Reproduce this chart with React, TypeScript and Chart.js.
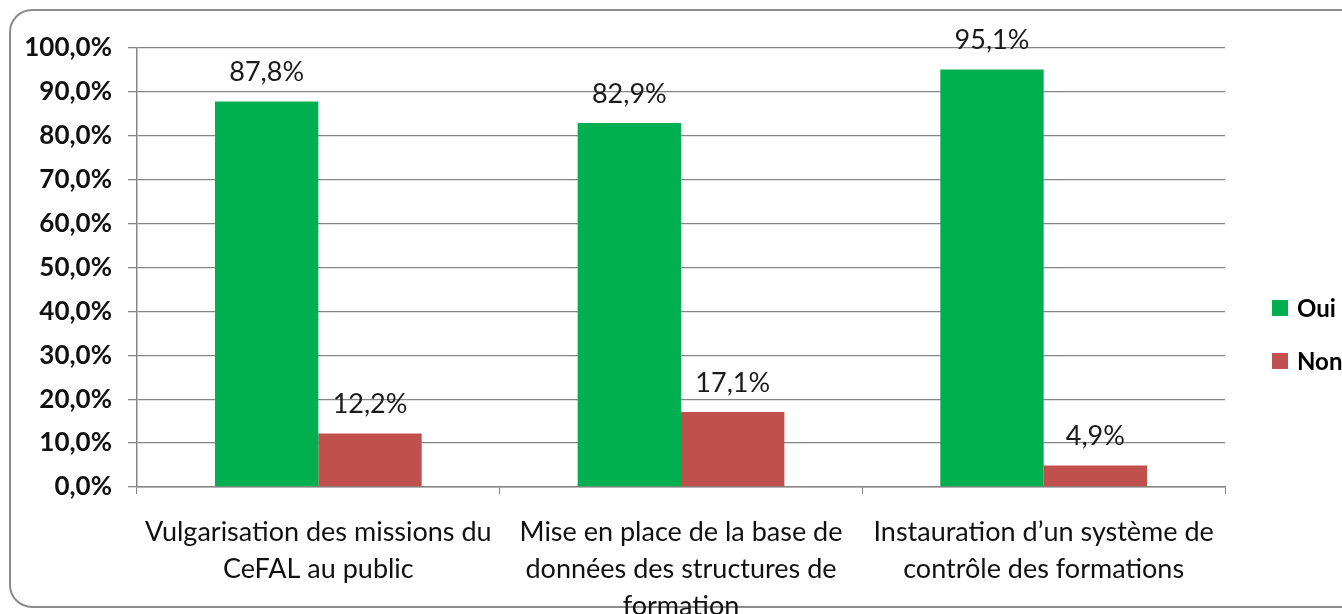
import React, { useEffect, useRef } from "react";
import { Chart, registerables } from "chart.js";

Chart.register(...registerables);

const categories: string[][] = [
  ["Vulgarisation des missions du", "CeFAL au public"],
  ["Mise en place de la base de", "données des structures de", "formation"],
  ["Instauration d\u2019un système de", "contrôle des formations"],
];
const seriesNames = ["Oui", "Non"];
const ouiValues = [87.8, 82.9, 95.1];
const nonValues = [12.2, 17.1, 4.9];
const seriesColors = ["#00B050", "#C0504D"];

const FONT = "Lato, 'Open Sans', sans-serif";

const fmt = (v: number) => v.toFixed(1).replace(".", ",") + "%";

export default function App() {
  const ref = useRef<HTMLCanvasElement>(null);
  useEffect(() => {
    if (!ref.current) return;
    const framePlugin = {
      id: "frame",
      beforeDraw(chart: any) {
        const ctx = chart.ctx;
        ctx.save();
        ctx.fillStyle = "#ffffff";
        ctx.fillRect(0, 0, chart.width, chart.height);
        ctx.strokeStyle = "#8c8c8c";
        ctx.lineWidth = 2;
        const x = 2, y = 2, w = chart.width + 40, h = 597, r = 22;
        ctx.beginPath();
        ctx.moveTo(x + r, y);
        ctx.lineTo(x + w - r, y);
        ctx.arcTo(x + w, y, x + w, y + r, r);
        ctx.lineTo(x + w, y + h - r);
        ctx.arcTo(x + w, y + h, x + w - r, y + h, r);
        ctx.lineTo(x + r, y + h);
        ctx.arcTo(x, y + h, x, y + h - r, r);
        ctx.lineTo(x, y + r);
        ctx.arcTo(x, y, x + r, y, r);
        ctx.closePath();
        ctx.stroke();
        ctx.restore();
      },
      afterDraw(chart: any) {
        const ctx = chart.ctx;
        ctx.save();
        // data labels
        ctx.font = `27px ${FONT}`;
        ctx.fillStyle = "#1a1a1a";
        ctx.textAlign = "center";
        ctx.textBaseline = "middle";
        chart.data.datasets.forEach((ds: any, di: number) => {
          const meta = chart.getDatasetMeta(di);
          meta.data.forEach((bar: any, i: number) => {
            ctx.fillText(fmt(ds.data[i]), bar.x, bar.y - 29);
          });
        });
        // legend
        const lx = 1264;
        const ys = [300, 353];
        chart.data.datasets.forEach((ds: any, di: number) => {
          ctx.fillStyle = ds.backgroundColor;
          ctx.fillRect(lx, ys[di] - 8, 16, 16);
          ctx.fillStyle = "#000";
          ctx.textAlign = "left";
          ctx.font = `bold 24px ${FONT}`;
          ctx.fillText(ds.label, lx + 25, ys[di] + 1);
        });
        ctx.restore();
      },
    };
    const chart = new Chart(ref.current, {
      type: "bar",
      data: {
        labels: categories,
        datasets: [
          { label: seriesNames[0], data: ouiValues, backgroundColor: seriesColors[0] },
          { label: seriesNames[1], data: nonValues, backgroundColor: seriesColors[1] },
        ],
      },
      options: {
        animation: false,
        responsive: false,
        maintainAspectRatio: false,
        layout: { padding: { left: 0, top: 40, right: 183, bottom: 0 } },
        plugins: { legend: { display: false }, tooltip: { enabled: false } },
        datasets: { bar: { categoryPercentage: 0.57, barPercentage: 1 } },
        scales: {
          x: {
            afterFit: (s: any) => { s.height = 127; },
            grid: { drawOnChartArea: false, drawTicks: true, tickLength: 7, color: "#868686", offset: true },
            border: { color: "#868686", width: 1.5 },
            ticks: {
              color: "#111",
              font: { family: FONT, size: 27, lineHeight: 1.37 },
              padding: 20,
              maxRotation: 0,
              autoSkip: false,
            },
          },
          y: {
            min: 0,
            max: 100,
            afterFit: (s: any) => { s.width = 129; },
            grid: { color: "#868686", lineWidth: 1.3, tickLength: 9 },
            border: { color: "#868686", width: 1.5 },
            ticks: {
              stepSize: 10,
              color: "#111",
              padding: 16,
              font: { family: FONT, size: 26, weight: "bold" },
              callback: (v: any) => fmt(Number(v)),
            },
          },
        },
      },
      plugins: [framePlugin],
    });
    return () => chart.destroy();
  }, []);
  return (
    <div style={{ position: "fixed", left: 8, top: 8, width: 1334, height: 606, overflow: "hidden" }}>
      <canvas ref={ref} width={1400} height={606} style={{ display: "block" }} />
    </div>
  );
}
